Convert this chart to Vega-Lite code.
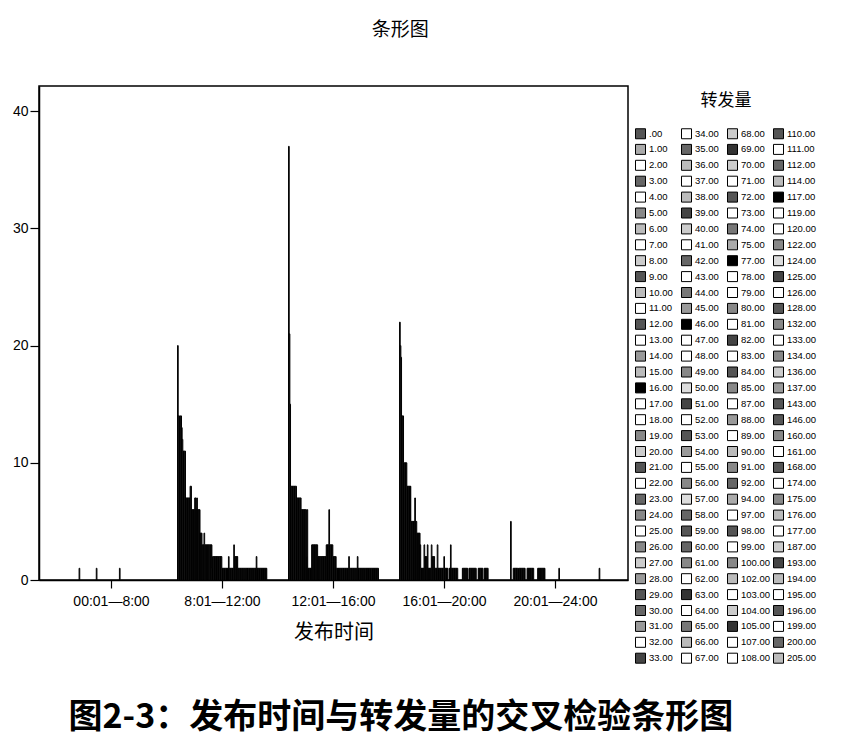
{
"$schema": "https://vega.github.io/schema/vega-lite/v6.json",
"padding": {"left": 11, "top": 20, "right": 5, "bottom": 5},
"background": "white",
"config": {
  "font": "Liberation Sans",
  "view": {"stroke": "black", "strokeWidth": 1.5},
  "axis": {"grid": false, "domainColor": "black", "domainWidth": 1.5, "tickColor": "black", "tickWidth": 1.2, "labelColor": "black", "titleColor": "black"}
},
"title": {"text": "图2-3：发布时间与转发量的交叉检验条形图", "orient": "bottom", "anchor": "middle", "frame": "bounds", "font": "Noto Sans CJK SC", "fontSize": 34, "fontWeight": "bold", "color": "black", "offset": 28, "dx": -17},
"vconcat": [{
  "width": 589,
  "height": 494,
  "title": {"text": "条形图", "font": "Noto Sans CJK SC", "fontSize": 19, "fontWeight": "normal", "color": "black", "anchor": "middle", "frame": "bounds", "offset": 46, "dx": 80},
  "data": {"values": [
    {"t":"00:01—8:00","n":19,"c":1},{"t":"00:01—8:00","n":45,"c":1},{"t":"00:01—8:00","n":81,"c":1},

    {"t":"8:01—12:00","n":0,"c":20},{"t":"8:01—12:00","n":1,"c":14},{"t":"8:01—12:00","n":2,"c":14},{"t":"8:01—12:00","n":3,"c":13},{"t":"8:01—12:00","n":4,"c":14},{"t":"8:01—12:00","n":5,"c":14},{"t":"8:01—12:00","n":6,"c":13},{"t":"8:01—12:00","n":7,"c":12},
    {"t":"8:01—12:00","n":8,"c":11},{"t":"8:01—12:00","n":9,"c":11},{"t":"8:01—12:00","n":10,"c":11},{"t":"8:01—12:00","n":11,"c":11},
    {"t":"8:01—12:00","n":12,"c":7},{"t":"8:01—12:00","n":13,"c":7},{"t":"8:01—12:00","n":14,"c":7},{"t":"8:01—12:00","n":15,"c":7},{"t":"8:01—12:00","n":16,"c":7},{"t":"8:01—12:00","n":17,"c":7},{"t":"8:01—12:00","n":18,"c":7},
    {"t":"8:01—12:00","n":19,"c":8},{"t":"8:01—12:00","n":20,"c":8},
    {"t":"8:01—12:00","n":21,"c":6},{"t":"8:01—12:00","n":22,"c":6},{"t":"8:01—12:00","n":23,"c":6},{"t":"8:01—12:00","n":24,"c":6},{"t":"8:01—12:00","n":25,"c":6},
    {"t":"8:01—12:00","n":26,"c":7},{"t":"8:01—12:00","n":27,"c":7},{"t":"8:01—12:00","n":28,"c":6},{"t":"8:01—12:00","n":29,"c":7},{"t":"8:01—12:00","n":30,"c":6},{"t":"8:01—12:00","n":31,"c":6},{"t":"8:01—12:00","n":32,"c":6},{"t":"8:01—12:00","n":33,"c":6},
    {"t":"8:01—12:00","n":34,"c":4},{"t":"8:01—12:00","n":35,"c":4},{"t":"8:01—12:00","n":36,"c":4},{"t":"8:01—12:00","n":37,"c":3},{"t":"8:01—12:00","n":38,"c":3},{"t":"8:01—12:00","n":39,"c":3},{"t":"8:01—12:00","n":40,"c":4},
    {"t":"8:01—12:00","n":41,"c":3},{"t":"8:01—12:00","n":42,"c":3},{"t":"8:01—12:00","n":43,"c":3},{"t":"8:01—12:00","n":44,"c":3},{"t":"8:01—12:00","n":45,"c":3},{"t":"8:01—12:00","n":46,"c":3},{"t":"8:01—12:00","n":47,"c":3},{"t":"8:01—12:00","n":48,"c":3},{"t":"8:01—12:00","n":49,"c":3},{"t":"8:01—12:00","n":50,"c":3},{"t":"8:01—12:00","n":51,"c":3},
    {"t":"8:01—12:00","n":52,"c":1},
    {"t":"8:01—12:00","n":53,"c":2},{"t":"8:01—12:00","n":54,"c":2},{"t":"8:01—12:00","n":55,"c":2},{"t":"8:01—12:00","n":56,"c":2},{"t":"8:01—12:00","n":57,"c":2},{"t":"8:01—12:00","n":58,"c":2},{"t":"8:01—12:00","n":59,"c":2},{"t":"8:01—12:00","n":60,"c":2},{"t":"8:01—12:00","n":61,"c":2},{"t":"8:01—12:00","n":62,"c":2},{"t":"8:01—12:00","n":63,"c":2},{"t":"8:01—12:00","n":64,"c":2},{"t":"8:01—12:00","n":65,"c":2},{"t":"8:01—12:00","n":66,"c":2},
    {"t":"8:01—12:00","n":67,"c":1},{"t":"8:01—12:00","n":68,"c":1},{"t":"8:01—12:00","n":69,"c":1},{"t":"8:01—12:00","n":70,"c":1},{"t":"8:01—12:00","n":71,"c":1},{"t":"8:01—12:00","n":72,"c":1},{"t":"8:01—12:00","n":73,"c":1},{"t":"8:01—12:00","n":74,"c":1},{"t":"8:01—12:00","n":75,"c":1},{"t":"8:01—12:00","n":77,"c":1},
    {"t":"8:01—12:00","n":78,"c":2},
    {"t":"8:01—12:00","n":79,"c":1},{"t":"8:01—12:00","n":80,"c":1},{"t":"8:01—12:00","n":81,"c":1},{"t":"8:01—12:00","n":82,"c":1},{"t":"8:01—12:00","n":83,"c":1},{"t":"8:01—12:00","n":84,"c":1},{"t":"8:01—12:00","n":85,"c":1},
    {"t":"8:01—12:00","n":87,"c":3},
    {"t":"8:01—12:00","n":88,"c":2},{"t":"8:01—12:00","n":89,"c":2},{"t":"8:01—12:00","n":90,"c":2},{"t":"8:01—12:00","n":91,"c":2},{"t":"8:01—12:00","n":92,"c":2},
    {"t":"8:01—12:00","n":94,"c":1},{"t":"8:01—12:00","n":97,"c":1},{"t":"8:01—12:00","n":98,"c":1},{"t":"8:01—12:00","n":99,"c":1},{"t":"8:01—12:00","n":100,"c":1},{"t":"8:01—12:00","n":102,"c":1},{"t":"8:01—12:00","n":103,"c":1},{"t":"8:01—12:00","n":104,"c":1},{"t":"8:01—12:00","n":105,"c":1},{"t":"8:01—12:00","n":107,"c":1},{"t":"8:01—12:00","n":108,"c":1},
    {"t":"8:01—12:00","n":110,"c":1},{"t":"8:01—12:00","n":111,"c":1},{"t":"8:01—12:00","n":112,"c":1},{"t":"8:01—12:00","n":114,"c":1},{"t":"8:01—12:00","n":117,"c":1},{"t":"8:01—12:00","n":119,"c":1},{"t":"8:01—12:00","n":120,"c":1},{"t":"8:01—12:00","n":122,"c":1},{"t":"8:01—12:00","n":124,"c":1},{"t":"8:01—12:00","n":125,"c":1},{"t":"8:01—12:00","n":126,"c":1},{"t":"8:01—12:00","n":128,"c":1},{"t":"8:01—12:00","n":132,"c":1},{"t":"8:01—12:00","n":133,"c":1},{"t":"8:01—12:00","n":134,"c":1},{"t":"8:01—12:00","n":136,"c":1},{"t":"8:01—12:00","n":137,"c":1},
    {"t":"8:01—12:00","n":143,"c":2},
    {"t":"8:01—12:00","n":146,"c":1},{"t":"8:01—12:00","n":160,"c":1},{"t":"8:01—12:00","n":161,"c":1},{"t":"8:01—12:00","n":168,"c":1},{"t":"8:01—12:00","n":174,"c":1},{"t":"8:01—12:00","n":175,"c":1},{"t":"8:01—12:00","n":176,"c":1},{"t":"8:01—12:00","n":177,"c":1},{"t":"8:01—12:00","n":187,"c":1},{"t":"8:01—12:00","n":193,"c":1},{"t":"8:01—12:00","n":194,"c":1},{"t":"8:01—12:00","n":195,"c":1},{"t":"8:01—12:00","n":196,"c":1},{"t":"8:01—12:00","n":199,"c":1},{"t":"8:01—12:00","n":200,"c":1},

    {"t":"12:01—16:00","n":0,"c":37},{"t":"12:01—16:00","n":1,"c":21},{"t":"12:01—16:00","n":2,"c":15},
    {"t":"12:01—16:00","n":3,"c":8},{"t":"12:01—16:00","n":4,"c":8},{"t":"12:01—16:00","n":5,"c":8},{"t":"12:01—16:00","n":6,"c":8},{"t":"12:01—16:00","n":7,"c":8},{"t":"12:01—16:00","n":8,"c":8},{"t":"12:01—16:00","n":9,"c":8},{"t":"12:01—16:00","n":10,"c":8},{"t":"12:01—16:00","n":11,"c":8},
    {"t":"12:01—16:00","n":12,"c":7},{"t":"12:01—16:00","n":13,"c":7},{"t":"12:01—16:00","n":14,"c":7},{"t":"12:01—16:00","n":15,"c":7},{"t":"12:01—16:00","n":16,"c":7},{"t":"12:01—16:00","n":17,"c":7},{"t":"12:01—16:00","n":18,"c":7},
    {"t":"12:01—16:00","n":19,"c":6},{"t":"12:01—16:00","n":20,"c":6},{"t":"12:01—16:00","n":21,"c":6},{"t":"12:01—16:00","n":22,"c":6},{"t":"12:01—16:00","n":23,"c":6},{"t":"12:01—16:00","n":24,"c":6},{"t":"12:01—16:00","n":25,"c":6},{"t":"12:01—16:00","n":26,"c":6},
    {"t":"12:01—16:00","n":27,"c":2},{"t":"12:01—16:00","n":28,"c":6},
    {"t":"12:01—16:00","n":29,"c":1},{"t":"12:01—16:00","n":30,"c":1},{"t":"12:01—16:00","n":31,"c":1},{"t":"12:01—16:00","n":32,"c":1},{"t":"12:01—16:00","n":33,"c":1},{"t":"12:01—16:00","n":34,"c":1},
    {"t":"12:01—16:00","n":35,"c":3},{"t":"12:01—16:00","n":36,"c":3},{"t":"12:01—16:00","n":37,"c":3},{"t":"12:01—16:00","n":38,"c":3},{"t":"12:01—16:00","n":39,"c":3},{"t":"12:01—16:00","n":40,"c":3},{"t":"12:01—16:00","n":41,"c":3},{"t":"12:01—16:00","n":42,"c":3},{"t":"12:01—16:00","n":43,"c":3},
    {"t":"12:01—16:00","n":44,"c":2},{"t":"12:01—16:00","n":45,"c":2},{"t":"12:01—16:00","n":46,"c":2},{"t":"12:01—16:00","n":47,"c":2},{"t":"12:01—16:00","n":48,"c":2},{"t":"12:01—16:00","n":49,"c":2},{"t":"12:01—16:00","n":50,"c":2},{"t":"12:01—16:00","n":51,"c":2},{"t":"12:01—16:00","n":52,"c":2},{"t":"12:01—16:00","n":53,"c":2},{"t":"12:01—16:00","n":54,"c":2},{"t":"12:01—16:00","n":55,"c":2},{"t":"12:01—16:00","n":56,"c":2},
    {"t":"12:01—16:00","n":57,"c":3},{"t":"12:01—16:00","n":58,"c":3},{"t":"12:01—16:00","n":59,"c":3},{"t":"12:01—16:00","n":60,"c":3},{"t":"12:01—16:00","n":61,"c":6},{"t":"12:01—16:00","n":62,"c":3},{"t":"12:01—16:00","n":63,"c":3},{"t":"12:01—16:00","n":64,"c":3},{"t":"12:01—16:00","n":65,"c":3},{"t":"12:01—16:00","n":66,"c":3},
    {"t":"12:01—16:00","n":67,"c":2},{"t":"12:01—16:00","n":68,"c":2},{"t":"12:01—16:00","n":69,"c":2},{"t":"12:01—16:00","n":70,"c":2},{"t":"12:01—16:00","n":71,"c":2},
    {"t":"12:01—16:00","n":72,"c":1},{"t":"12:01—16:00","n":73,"c":1},{"t":"12:01—16:00","n":74,"c":1},{"t":"12:01—16:00","n":75,"c":1},{"t":"12:01—16:00","n":77,"c":1},{"t":"12:01—16:00","n":78,"c":1},{"t":"12:01—16:00","n":79,"c":1},{"t":"12:01—16:00","n":80,"c":1},{"t":"12:01—16:00","n":81,"c":1},{"t":"12:01—16:00","n":82,"c":1},{"t":"12:01—16:00","n":83,"c":1},{"t":"12:01—16:00","n":84,"c":1},{"t":"12:01—16:00","n":85,"c":1},{"t":"12:01—16:00","n":87,"c":1},{"t":"12:01—16:00","n":88,"c":1},{"t":"12:01—16:00","n":89,"c":1},{"t":"12:01—16:00","n":90,"c":1},{"t":"12:01—16:00","n":91,"c":1},{"t":"12:01—16:00","n":92,"c":1},
    {"t":"12:01—16:00","n":94,"c":2},
    {"t":"12:01—16:00","n":97,"c":1},{"t":"12:01—16:00","n":98,"c":1},{"t":"12:01—16:00","n":99,"c":1},{"t":"12:01—16:00","n":100,"c":1},{"t":"12:01—16:00","n":102,"c":1},{"t":"12:01—16:00","n":103,"c":1},{"t":"12:01—16:00","n":104,"c":1},{"t":"12:01—16:00","n":105,"c":1},{"t":"12:01—16:00","n":107,"c":1},{"t":"12:01—16:00","n":108,"c":1},{"t":"12:01—16:00","n":110,"c":1},{"t":"12:01—16:00","n":111,"c":1},
    {"t":"12:01—16:00","n":112,"c":2},
    {"t":"12:01—16:00","n":114,"c":1},{"t":"12:01—16:00","n":117,"c":1},{"t":"12:01—16:00","n":119,"c":1},{"t":"12:01—16:00","n":120,"c":1},{"t":"12:01—16:00","n":122,"c":1},{"t":"12:01—16:00","n":124,"c":1},{"t":"12:01—16:00","n":125,"c":1},{"t":"12:01—16:00","n":126,"c":1},{"t":"12:01—16:00","n":128,"c":1},{"t":"12:01—16:00","n":132,"c":1},{"t":"12:01—16:00","n":133,"c":1},{"t":"12:01—16:00","n":134,"c":1},{"t":"12:01—16:00","n":136,"c":1},{"t":"12:01—16:00","n":137,"c":1},{"t":"12:01—16:00","n":143,"c":1},{"t":"12:01—16:00","n":146,"c":1},{"t":"12:01—16:00","n":160,"c":1},{"t":"12:01—16:00","n":161,"c":1},{"t":"12:01—16:00","n":168,"c":1},{"t":"12:01—16:00","n":174,"c":1},{"t":"12:01—16:00","n":175,"c":1},{"t":"12:01—16:00","n":176,"c":1},{"t":"12:01—16:00","n":177,"c":1},{"t":"12:01—16:00","n":187,"c":1},{"t":"12:01—16:00","n":193,"c":1},{"t":"12:01—16:00","n":194,"c":1},{"t":"12:01—16:00","n":195,"c":1},{"t":"12:01—16:00","n":196,"c":1},{"t":"12:01—16:00","n":199,"c":1},{"t":"12:01—16:00","n":200,"c":1},{"t":"12:01—16:00","n":205,"c":1},

    {"t":"16:01—20:00","n":0,"c":22},{"t":"16:01—20:00","n":1,"c":20},{"t":"16:01—20:00","n":2,"c":19},
    {"t":"16:01—20:00","n":3,"c":14},{"t":"16:01—20:00","n":4,"c":14},{"t":"16:01—20:00","n":5,"c":14},
    {"t":"16:01—20:00","n":6,"c":10},{"t":"16:01—20:00","n":7,"c":10},{"t":"16:01—20:00","n":8,"c":10},{"t":"16:01—20:00","n":9,"c":10},{"t":"16:01—20:00","n":10,"c":10},
    {"t":"16:01—20:00","n":11,"c":8},{"t":"16:01—20:00","n":12,"c":8},{"t":"16:01—20:00","n":13,"c":8},{"t":"16:01—20:00","n":14,"c":8},{"t":"16:01—20:00","n":15,"c":8},{"t":"16:01—20:00","n":16,"c":8},
    {"t":"16:01—20:00","n":17,"c":5},{"t":"16:01—20:00","n":18,"c":5},{"t":"16:01—20:00","n":19,"c":5},{"t":"16:01—20:00","n":20,"c":5},{"t":"16:01—20:00","n":21,"c":5},{"t":"16:01—20:00","n":22,"c":5},{"t":"16:01—20:00","n":23,"c":7},{"t":"16:01—20:00","n":24,"c":5},{"t":"16:01—20:00","n":25,"c":5},
    {"t":"16:01—20:00","n":26,"c":4},{"t":"16:01—20:00","n":27,"c":4},{"t":"16:01—20:00","n":28,"c":4},{"t":"16:01—20:00","n":29,"c":4},{"t":"16:01—20:00","n":30,"c":4},
    {"t":"16:01—20:00","n":31,"c":3},{"t":"16:01—20:00","n":32,"c":1},{"t":"16:01—20:00","n":33,"c":1},{"t":"16:01—20:00","n":34,"c":1},{"t":"16:01—20:00","n":35,"c":1},{"t":"16:01—20:00","n":36,"c":1},
    {"t":"16:01—20:00","n":37,"c":3},{"t":"16:01—20:00","n":38,"c":2},{"t":"16:01—20:00","n":39,"c":2},{"t":"16:01—20:00","n":40,"c":2},{"t":"16:01—20:00","n":41,"c":2},{"t":"16:01—20:00","n":42,"c":3},
    {"t":"16:01—20:00","n":43,"c":1},{"t":"16:01—20:00","n":44,"c":1},{"t":"16:01—20:00","n":45,"c":1},{"t":"16:01—20:00","n":46,"c":1},{"t":"16:01—20:00","n":47,"c":1},
    {"t":"16:01—20:00","n":48,"c":3},{"t":"16:01—20:00","n":49,"c":2},{"t":"16:01—20:00","n":50,"c":2},{"t":"16:01—20:00","n":51,"c":2},{"t":"16:01—20:00","n":52,"c":2},
    {"t":"16:01—20:00","n":53,"c":1},{"t":"16:01—20:00","n":54,"c":1},{"t":"16:01—20:00","n":55,"c":1},{"t":"16:01—20:00","n":56,"c":1},{"t":"16:01—20:00","n":57,"c":3},
    {"t":"16:01—20:00","n":58,"c":1},{"t":"16:01—20:00","n":59,"c":1},{"t":"16:01—20:00","n":60,"c":1},{"t":"16:01—20:00","n":61,"c":1},{"t":"16:01—20:00","n":62,"c":1},{"t":"16:01—20:00","n":63,"c":1},{"t":"16:01—20:00","n":64,"c":1},{"t":"16:01—20:00","n":65,"c":1},{"t":"16:01—20:00","n":66,"c":1},
    {"t":"16:01—20:00","n":67,"c":2},{"t":"16:01—20:00","n":68,"c":1},{"t":"16:01—20:00","n":69,"c":1},{"t":"16:01—20:00","n":70,"c":1},{"t":"16:01—20:00","n":71,"c":1},{"t":"16:01—20:00","n":72,"c":1},
    {"t":"16:01—20:00","n":75,"c":1},{"t":"16:01—20:00","n":77,"c":1},{"t":"16:01—20:00","n":78,"c":3},
    {"t":"16:01—20:00","n":79,"c":1},{"t":"16:01—20:00","n":80,"c":1},{"t":"16:01—20:00","n":81,"c":1},{"t":"16:01—20:00","n":82,"c":1},{"t":"16:01—20:00","n":83,"c":1},{"t":"16:01—20:00","n":84,"c":1},{"t":"16:01—20:00","n":85,"c":1},{"t":"16:01—20:00","n":87,"c":1},{"t":"16:01—20:00","n":88,"c":1},{"t":"16:01—20:00","n":89,"c":1},
    {"t":"16:01—20:00","n":100,"c":1},{"t":"16:01—20:00","n":102,"c":1},{"t":"16:01—20:00","n":103,"c":1},{"t":"16:01—20:00","n":104,"c":1},{"t":"16:01—20:00","n":105,"c":1},{"t":"16:01—20:00","n":107,"c":1},{"t":"16:01—20:00","n":108,"c":1},{"t":"16:01—20:00","n":110,"c":1},
    {"t":"16:01—20:00","n":114,"c":1},{"t":"16:01—20:00","n":117,"c":1},{"t":"16:01—20:00","n":119,"c":1},{"t":"16:01—20:00","n":120,"c":1},{"t":"16:01—20:00","n":122,"c":1},{"t":"16:01—20:00","n":124,"c":1},{"t":"16:01—20:00","n":125,"c":1},{"t":"16:01—20:00","n":126,"c":1},{"t":"16:01—20:00","n":128,"c":1},{"t":"16:01—20:00","n":132,"c":1},{"t":"16:01—20:00","n":133,"c":1},
    {"t":"16:01—20:00","n":143,"c":1},{"t":"16:01—20:00","n":146,"c":1},{"t":"16:01—20:00","n":160,"c":1},{"t":"16:01—20:00","n":161,"c":1},{"t":"16:01—20:00","n":168,"c":1},{"t":"16:01—20:00","n":174,"c":1},{"t":"16:01—20:00","n":175,"c":1},
    {"t":"16:01—20:00","n":187,"c":1},{"t":"16:01—20:00","n":193,"c":1},{"t":"16:01—20:00","n":194,"c":1},{"t":"16:01—20:00","n":195,"c":1},{"t":"16:01—20:00","n":196,"c":1},{"t":"16:01—20:00","n":199,"c":1},

    {"t":"20:01—24:00","n":0,"c":5},
    {"t":"20:01—24:00","n":4,"c":1},{"t":"20:01—24:00","n":5,"c":1},{"t":"20:01—24:00","n":6,"c":1},{"t":"20:01—24:00","n":7,"c":1},{"t":"20:01—24:00","n":8,"c":1},{"t":"20:01—24:00","n":9,"c":1},{"t":"20:01—24:00","n":10,"c":1},
    {"t":"20:01—24:00","n":12,"c":1},{"t":"20:01—24:00","n":13,"c":1},{"t":"20:01—24:00","n":14,"c":1},{"t":"20:01—24:00","n":15,"c":1},{"t":"20:01—24:00","n":16,"c":1},{"t":"20:01—24:00","n":17,"c":1},{"t":"20:01—24:00","n":18,"c":1},{"t":"20:01—24:00","n":19,"c":1},{"t":"20:01—24:00","n":20,"c":1},{"t":"20:01—24:00","n":21,"c":1},
    {"t":"20:01—24:00","n":25,"c":1},{"t":"20:01—24:00","n":26,"c":1},{"t":"20:01—24:00","n":27,"c":1},{"t":"20:01—24:00","n":28,"c":1},{"t":"20:01—24:00","n":29,"c":1},{"t":"20:01—24:00","n":30,"c":1},{"t":"20:01—24:00","n":31,"c":1},{"t":"20:01—24:00","n":32,"c":1},{"t":"20:01—24:00","n":33,"c":1},{"t":"20:01—24:00","n":34,"c":1},
    {"t":"20:01—24:00","n":41,"c":1},{"t":"20:01—24:00","n":42,"c":1},{"t":"20:01—24:00","n":43,"c":1},{"t":"20:01—24:00","n":44,"c":1},{"t":"20:01—24:00","n":45,"c":1},{"t":"20:01—24:00","n":46,"c":1},{"t":"20:01—24:00","n":47,"c":1},{"t":"20:01—24:00","n":48,"c":1},{"t":"20:01—24:00","n":49,"c":1},{"t":"20:01—24:00","n":50,"c":1},{"t":"20:01—24:00","n":51,"c":1},
    {"t":"20:01—24:00","n":73,"c":1},{"t":"20:01—24:00","n":200,"c":1}
  ]},
  "mark": {"type": "bar", "stroke": "black", "strokeWidth": 1},
  "encoding": {
    "x": {"field": "t", "type": "nominal", "sort": ["00:01—8:00", "8:01—12:00", "12:01—16:00", "16:01—20:00", "20:01—24:00"],
      "scale": {"paddingInner": 0.19, "paddingOuter": 0.248},
      "axis": {"title": "发布时间", "labelAngle": 0, "labelFontSize": 14, "labelPadding": 6, "tickSize": 8, "titleFont": "Noto Sans CJK SC", "titleFontSize": 20, "titleFontWeight": "normal", "titlePadding": 14}},
    "xOffset": {"field": "n", "type": "ordinal",
      "scale": {"paddingInner": 0, "paddingOuter": 0, "domain": [0,1,2,3,4,5,6,7,8,9,10,11,12,13,14,15,16,17,18,19,20,21,22,23,24,25,26,27,28,29,30,31,32,33,34,35,36,37,38,39,40,41,42,43,44,45,46,47,48,49,50,51,52,53,54,55,56,57,58,59,60,61,62,63,64,65,66,67,68,69,70,71,72,73,74,75,77,78,79,80,81,82,83,84,85,87,88,89,90,91,92,94,97,98,99,100,102,103,104,105,107,108,110,111,112,114,117,119,120,122,124,125,126,128,132,133,134,136,137,143,146,160,161,168,174,175,176,177,187,193,194,195,196,199,200,205]}},
    "y": {"field": "c", "type": "quantitative", "scale": {"domain": [0, 42.15], "nice": false},
      "axis": {"title": null, "values": [0, 10, 20, 30, 40], "labelFontSize": 14, "tickSize": 9, "labelPadding": 2}},
    "fill": {"field": "n", "type": "nominal",
      "scale": {
        "domain": [0,1,2,3,4,5,6,7,8,9,10,11,12,13,14,15,16,17,18,19,20,21,22,23,24,25,26,27,28,29,30,31,32,33,34,35,36,37,38,39,40,41,42,43,44,45,46,47,48,49,50,51,52,53,54,55,56,57,58,59,60,61,62,63,64,65,66,67,68,69,70,71,72,73,74,75,77,78,79,80,81,82,83,84,85,87,88,89,90,91,92,94,97,98,99,100,102,103,104,105,107,108,110,111,112,114,117,119,120,122,124,125,126,128,132,133,134,136,137,143,146,160,161,168,174,175,176,177,187,193,194,195,196,199,200,205],
        "range": ["#555","#aaa","#fff","#666","#fff","#888","#bbb","#fff","#ccc","#555","#bbb","#fff","#555","#fff","#999","#bbb","#000","#fff","#fff","#888","#ccc","#555","#fff","#666","#888","#fff","#888","#ccc","#999","#555","#666","#999","#fff","#444",
                  "#fff","#666","#bbb","#fff","#bbb","#444","#ccc","#fff","#666","#fff","#777","#999","#000","#fff","#fff","#888","#ddd","#444","#fff","#555","#999","#fff","#888","#ddd","#666","#555","#666","#888","#fff","#333","#fff","#777","#bbb","#fff",
                  "#ccc","#333","#ccc","#fff","#555","#fff","#777","#aaa","#000","#fff","#fff","#888","#fff","#444","#fff","#555","#888","#fff","#999","#fff","#bbb","#888","#666","#aaa","#fff","#555","#fff","#888","#bbb","#fff","#ccc","#333","#fff","#fff",
                  "#555","#fff","#666","#bbb","#000","#fff","#fff","#888","#ddd","#444","#fff","#555","#888","#fff","#888","#ccc","#999","#555","#555","#888","#fff","#555","#fff","#888","#bbb","#fff","#ccc","#444","#bbb","#fff","#555","#fff","#666","#bbb"]
      },
      "legend": {"title": "转发量", "orient": "right", "columns": 4, "symbolLimit": 200, "symbolType": "square", "symbolSize": 100, "symbolStrokeColor": "black", "symbolStrokeWidth": 1, "symbolOpacity": 1,
        "labelExpr": "datum.value == 0 ? '.00' : format(datum.value, '.2f')", "labelFontSize": 9.5, "labelOffset": 3, "labelColor": "black",
        "gridAlign": "all", "columnPadding": 0, "rowPadding": 0.9,
        "titleFont": "Noto Sans CJK SC", "titleFontSize": 17, "titleFontWeight": "normal", "titleColor": "black", "titleAnchor": "middle", "titlePadding": 18,
        "offset": -1, "padding": 7}
    }
  }
}]
}
